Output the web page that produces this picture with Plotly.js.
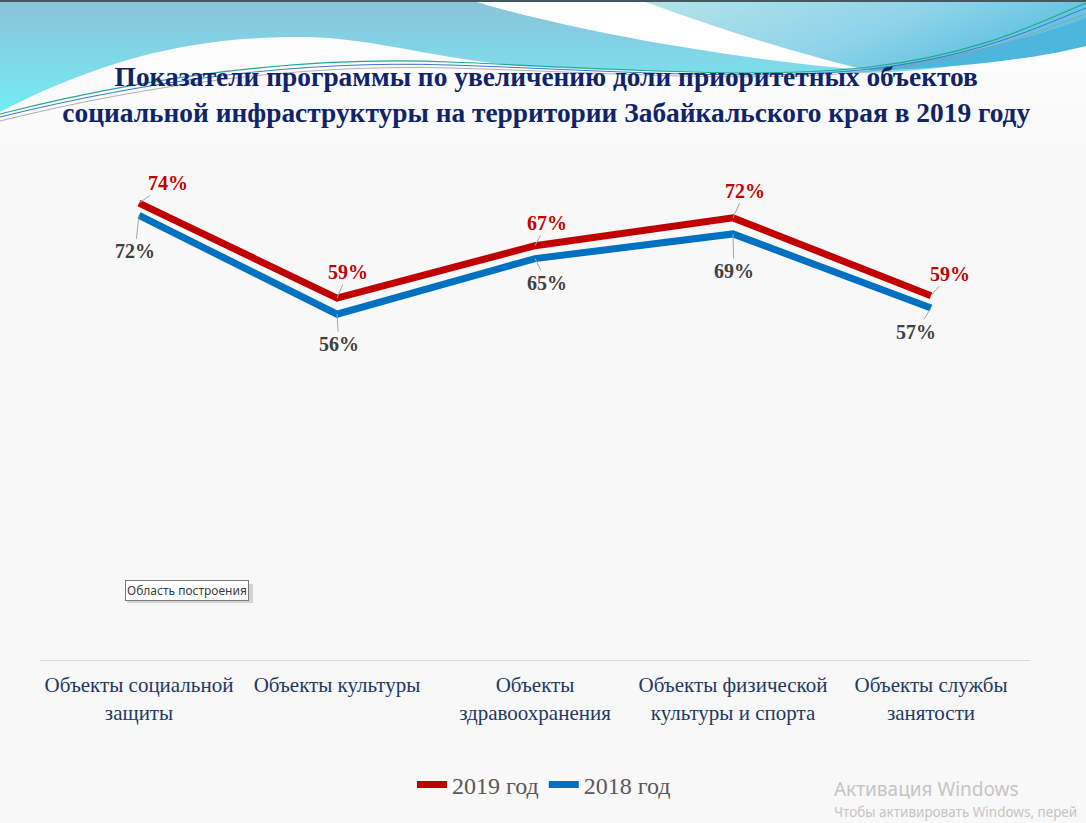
<!DOCTYPE html>
<html>
<head>
<meta charset="utf-8">
<script src="https://cdn.plot.ly/plotly-3.0.1.min.js"></script>
<style>
html,body{margin:0;padding:0;background:#f8f8f8;}
#chart{width:1086px;height:823px;}
</style>
</head>
<body>
<div id="chart"></div>
<script>
// ---- data ----
const categories = [
  "Объекты социальной<br>защиты",
  "Объекты культуры",
  "Объекты<br>здравоохранения",
  "Объекты физической<br>культуры и спорта",
  "Объекты службы<br>занятости"
];
const seriesNames = ["2019 год", "2018 год"];
const values2019 = [0.74, 0.586, 0.671, 0.716, 0.59];
const values2018 = [0.72, 0.56, 0.65, 0.69, 0.57];
const titleText = "Показатели программы по увеличению доли приоритетных объектов<br>социальной инфраструктуры на территории Забайкальского края в 2019 году";

// ---- styles ----
const serif = "Liberation Serif, Times New Roman, serif";
const colors = ["#c00000", "#0070c0"];
const labelColors = ["#c00000", "#404040"];
const offsets2019 = [[29,-20],[11,-26],[12,-23],[12,-27],[19,-22]];
const offsets2018 = [[-4,36],[2,30],[12,24],[1,37],[-15,24]];

// plot area in pixels (for decorations)
const L = 40, R = 56, T = 166, B = 163, W = 1086, H = 823;
const PW = W - L - R, PH = H - T - B;
const px = x => (x - L) / PW;
const py = y => (H - B - y) / PH;

const traces = [
  {x: categories, y: values2019, name: seriesNames[0], type: "scatter", mode: "lines",
   line: {color: colors[0], width: 7}, cliponaxis: false, hoverinfo: "skip"},
  {x: categories, y: values2018, name: seriesNames[1], type: "scatter", mode: "lines",
   line: {color: colors[1], width: 7}, cliponaxis: false, hoverinfo: "skip"}
];

const annotations = [];
function addLabels(vals, offs, color) {
  vals.forEach((v, i) => {
    annotations.push({
      x: categories[i], y: v, xref: "x", yref: "y",
      text: Math.round(v * 100) + "%",
      showarrow: true, arrowhead: 0, arrowwidth: 1, arrowcolor: "#a6a6a6",
      ax: offs[i][0], ay: offs[i][1], standoff: 0,
      font: {family: serif, size: 20, color: color, weight: 700}
    });
  });
}
addLabels(values2019, offsets2019, labelColors[0]);
addLabels(values2018, offsets2018, labelColors[1]);

// tooltip "Область построения"
annotations.push({
  xref: "paper", yref: "paper", x: px(187), y: py(590.5), xanchor: "center", yanchor: "middle",
  text: "Область построения", showarrow: false,
  font: {family: "Noto Sans, Open Sans, sans-serif", size: 12, color: "#3a3a3a"},
  bgcolor: "#ffffff", bordercolor: "#7a7a7a", borderwidth: 1, borderpad: 1
});
// watermark
annotations.push({
  xref: "paper", yref: "paper", x: px(832), y: py(789), xanchor: "left", yanchor: "middle",
  text: "Активация Windows", showarrow: false,
  font: {family: "Noto Sans, Open Sans, sans-serif", size: 19, color: "#c4c4c4"}
});
annotations.push({
  xref: "paper", yref: "paper", x: px(832), y: py(812), xanchor: "left", yanchor: "middle",
  text: "Чтобы активировать Windows, перей", showarrow: false,
  font: {family: "Noto Sans, Open Sans, sans-serif", size: 13.5, color: "#c4c4c4"}
});

// decorative top wave as inline SVG
const svg = "<svg xmlns='http://www.w3.org/2000/svg' width='1086' height='823' viewBox='0 0 1086 823' preserveAspectRatio='none'>" +
 "<defs>" +
 "<linearGradient id='g1' x1='0' y1='0' x2='0' y2='1'><stop offset='0' stop-color='#8bc2d9'/><stop offset='1' stop-color='#74ecf5'/></linearGradient>" +
 "<linearGradient id='g2' x1='0' y1='0' x2='1' y2='0.4'><stop offset='0' stop-color='#b4e4e8'/><stop offset='0.6' stop-color='#8fd3ea'/><stop offset='1' stop-color='#5cc0e0'/></linearGradient>" +
 "<linearGradient id='g3' x1='0' y1='0' x2='0' y2='1'><stop offset='0' stop-color='#ffffff'/><stop offset='1' stop-color='#f8f8f8'/></linearGradient>" +
 "</defs>" +
 "<rect x='0' y='0' width='1086' height='160' fill='url(#g3)'/>" +
 "<path d='M0,0 L1086,0 L1086,40 C1000,60 930,74 843,73 C720,72 610,72 520,66 C430,58 370,37 300,37 C200,37 110,55 0,112 Z' fill='url(#g1)'/>" +
 "<path d='M640,0 C700,25 780,52 865,70 C950,62 1030,45 1086,32 L1086,0 Z' fill='url(#g2)'/>" +
 "<path d='M870,69 C960,56 1040,36 1086,18 L1086,46 C1040,58 960,68 870,71 Z' fill='#4cb6dc'/>" +
 "<path d='M470,0 C560,28 720,58 865,70 C770,46 700,22 640,0 Z' fill='#ffffff'/>" +
 "<path d='M0,114 C150,76 300,56 450,62 S760,80 870,67 S1040,22 1086,3' fill='none' stroke='#22a98a' stroke-width='1.2'/>" +
 "<path d='M0,117 C150,80 300,60 450,65 S760,82 870,69 S1040,26 1086,8' fill='none' stroke='#3a78d0' stroke-width='1'/>" +
 "<path d='M0,121 C150,84 300,64 450,68 S760,84 870,71 S1040,30 1086,14' fill='none' stroke='#9a9a9a' stroke-width='0.8'/>" +
 "<rect x='0' y='0' width='1086' height='2' fill='#44585f'/>" +
 "</svg>";
const svgUri = "data:image/svg+xml;charset=utf-8," + encodeURIComponent(svg);

const layout = {
  width: W, height: H,
  margin: {l: L, r: R, t: T, b: B},
  paper_bgcolor: "#f8f8f8",
  plot_bgcolor: "rgba(0,0,0,0)",
  title: {
    text: titleText, xref: "container", yref: "container",
    x: 0.503, xanchor: "center", y: 1 - 86 / H, yanchor: "top",
    font: {family: serif, size: 27.4, color: "#10246a", weight: 700}
  },
  xaxis: {
    type: "category", range: [-0.5, 4.5], showgrid: false, zeroline: false,
    showline: true, linecolor: "#d9d9d9", linewidth: 1, ticks: "",
    ticklabelstandoff: 6,
    tickfont: {family: serif, size: 21, color: "#1f3864"}, fixedrange: true
  },
  yaxis: {range: [0, 0.8], visible: false, fixedrange: true},
  showlegend: true,
  legend: {
    orientation: "h", x: px(544), xanchor: "center", y: py(785), yanchor: "middle",
    font: {family: serif, size: 24, color: "#595959"}, bgcolor: "rgba(0,0,0,0)",
    itemwidth: 30, traceorder: "normal"
  },
  annotations: annotations,
  shapes: [
    {type: "rect", xref: "paper", yref: "paper", x0: px(127), x1: px(253), y0: py(603), y1: py(584),
     fillcolor: "#b0b0b0", line: {width: 0}, layer: "below", opacity: 0.5}
  ],
  images: [{
    source: svgUri, xref: "paper", yref: "paper",
    x: px(0), y: py(0), sizex: W / PW, sizey: H / PH,
    xanchor: "left", yanchor: "top", sizing: "stretch", layer: "below"
  }]
};

Plotly.newPlot("chart", traces, layout, {displayModeBar: false, staticPlot: true});
</script>
</body>
</html>
